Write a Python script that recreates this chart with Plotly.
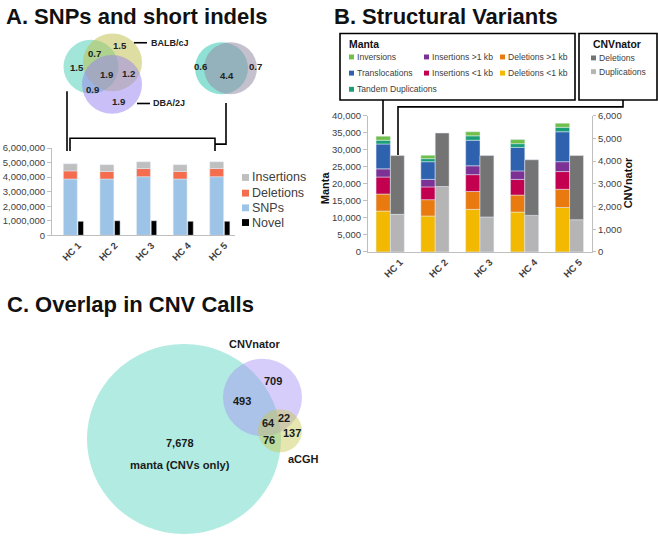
import plotly.graph_objects as go

W, H = 658, 544
FONT = "Liberation Sans, Arial, sans-serif"
TXT = "#404040"

# ---------------- data ----------------
categories = ["HC 1", "HC 2", "HC 3", "HC 4", "HC 5"]

# Panel A: SNPs and short indels (counts)
snps = [3870000, 3870000, 4030000, 3870000, 4030000]
deletions = [560000, 520000, 560000, 520000, 560000]
insertions = [490000, 470000, 470000, 470000, 470000]
novel = [960000, 1000000, 1000000, 960000, 960000]

# Panel A Venn labels (millions)
venn3_labels = ["1.5", "0.7", "1.5", "1.9", "1.2", "0.9", "1.9"]
venn2_labels = ["0.6", "4.4", "0.7"]

# Panel B: Manta structural variants (counts)
manta_series = ["Deletions <1 kb", "Deletions >1 kb", "Insertions <1 kb", "Insertions >1 kb",
                "Translocations", "Tandem Duplications", "Inversions"]
manta_del_lt1kb = [12000, 10550, 12500, 11700, 13050]
manta_del_gt1kb = [5000, 4800, 5250, 5000, 5350]
manta_ins_lt1kb = [5000, 3750, 4950, 4600, 5200]
manta_ins_gt1kb = [2400, 2200, 2600, 2500, 2900]
manta_transloc = [7300, 5200, 7500, 6900, 8800]
manta_tandem = [1100, 900, 1300, 1100, 1300]
manta_inversions = [1200, 1000, 1200, 1200, 1200]
manta_colors = ["#f3b800", "#e97a10", "#c2004f", "#7b3294", "#2f62ae", "#1a9e78", "#6fbf4a"]

# Panel B: CNVnator
cnv_duplications = [1655, 2880, 1540, 1610, 1420]
cnv_deletions = [2590, 2360, 2705, 2450, 2825]

# Panel C: CNV overlap counts
overlap_labels = ["7,678", "493", "709", "64", "22", "76", "137"]

# ---------------- helpers ----------------
def px(x):
    return x / W

def py(y):
    return 1 - y / H

shapes = []
annotations = []

def text(x, y, s, size, bold=False, color="#1a1a1a", xanchor="center", angle=0):
    annotations.append(dict(
        x=px(x), y=py(y), xref="paper", yref="paper", showarrow=False,
        text=f"<b>{s}</b>" if bold else s, textangle=angle,
        xanchor=xanchor, yanchor="middle",
        font=dict(family=FONT, size=size, color=color)))

def circle(cx, cy, r, fill):
    shapes.append(dict(type="circle", xref="paper", yref="paper",
                       x0=px(cx - r), x1=px(cx + r), y0=py(cy + r), y1=py(cy - r),
                       fillcolor=fill, line=dict(width=0), layer="above"))

def path(points, width=1.6, color="black"):
    d = "M " + " L ".join(f"{px(x)},{py(y)}" for x, y in points)
    shapes.append(dict(type="path", xref="paper", yref="paper", path=d,
                       line=dict(color=color, width=width), layer="above"))

def rect(x0, y0, x1, y1, fill=None, line_w=0, line_c="black"):
    shapes.append(dict(type="rect", xref="paper", yref="paper",
                       x0=px(x0), x1=px(x1), y0=py(y1), y1=py(y0),
                       fillcolor=fill if fill else "rgba(0,0,0,0)",
                       line=dict(width=line_w, color=line_c), layer="above"))

fig = go.Figure()
xs = list(range(len(categories)))

# ---------------- Panel A bars ----------------
base_del = snps
base_ins = [a + b for a, b in zip(snps, deletions)]
fig.add_trace(go.Bar(x=xs, y=snps, base=[0] * 5, name="SNPs", marker_color="#9dc3e6",
                     offset=-0.19, width=0.38, xaxis="x", yaxis="y"))
fig.add_trace(go.Bar(x=xs, y=deletions, base=base_del, name="Deletions", marker_color="#f46d4e",
                     offset=-0.19, width=0.38, xaxis="x", yaxis="y"))
fig.add_trace(go.Bar(x=xs, y=insertions, base=base_ins, name="Insertions", marker_color="#bfbfbf",
                     offset=-0.19, width=0.38, xaxis="x", yaxis="y"))
fig.add_trace(go.Bar(x=xs, y=novel, base=[0] * 5, name="Novel", marker_color="#000000",
                     offset=0.21, width=0.15, xaxis="x", yaxis="y"))

# ---------------- Panel B bars ----------------
manta_values = [manta_del_lt1kb, manta_del_gt1kb, manta_ins_lt1kb, manta_ins_gt1kb,
                manta_transloc, manta_tandem, manta_inversions]
running = [0] * 5
for name, vals, col in zip(manta_series, manta_values, manta_colors):
    fig.add_trace(go.Bar(x=xs, y=vals, base=list(running), name=name, marker_color=col,
                         offset=-0.32, width=0.32, xaxis="x2", yaxis="y2"))
    running = [a + b for a, b in zip(running, vals)]

fig.add_trace(go.Bar(x=xs, y=cnv_duplications, base=[0] * 5, name="Duplications",
                     marker_color="#b5b5b5", offset=0.0, width=0.31, xaxis="x2", yaxis="y3"))
fig.add_trace(go.Bar(x=xs, y=cnv_deletions, base=cnv_duplications, name="Deletions (CNVnator)",
                     marker_color="#747474", offset=0.0, width=0.31, xaxis="x2", yaxis="y3"))

# ---------------- axes ----------------
axis_common = dict(showline=True, linecolor="#bfbfbf", linewidth=1, showgrid=False, zeroline=False,
                   tickfont=dict(family=FONT, size=9.5, color=TXT))
tick_text = [f"<b>{c}</b>" for c in categories]
tick_pos = [i + 0.22 for i in xs]

fig.update_layout(
    xaxis=dict(domain=[px(52), px(235)], range=[-0.5, 4.5], anchor="y",
               tickvals=tick_pos, ticktext=tick_text, tickangle=-45, ticks="", **axis_common),
    yaxis=dict(domain=[py(234), py(145)], range=[0, 6000000], dtick=1000000, anchor="x",
               tickformat=",d", ticks="outside", ticklen=4, tickcolor="#bfbfbf", **axis_common),
    xaxis2=dict(domain=[px(368), px(592)], range=[-0.5, 4.5], anchor="y2",
                tickvals=tick_pos, ticktext=tick_text, tickangle=-45, ticks="", **axis_common),
    yaxis2=dict(domain=[py(251), py(112)], range=[0, 40000], dtick=5000, anchor="x2",
                tickformat=",d", ticks="outside", ticklen=4, tickcolor="#bfbfbf", **axis_common),
    yaxis3=dict(range=[0, 6000], dtick=1000, anchor="x2", overlaying="y2", side="right",
                tickformat=",d", ticks="outside", ticklen=3, tickcolor="#bfbfbf", **axis_common),
)

# ---------------- titles ----------------
text(4, 10.5, "A. SNPs and short indels", 22, bold=True, color="#111", xanchor="left")
text(332, 10.5, "B. Structural Variants", 22, bold=True, color="#111", xanchor="left")
text(5, 304.5, "C. Overlap in CNV Calls", 22, bold=True, color="#111", xanchor="left")

# ---------------- Panel A venns ----------------
circle(91, 62, 27.5, "rgba(70,205,180,0.5)")
circle(112.5, 57.5, 29.5, "rgba(190,190,70,0.5)")
circle(112, 80, 30, "rgba(150,130,240,0.5)")
venn3_pos = [(120, 40), (94, 48), (77, 63), (106, 70), (128, 69), (92, 85), (118, 97)]
for (x, y), s in zip(venn3_pos, venn3_labels):
    text(x, y, s, 9.6, bold=True, color="#222")
path([(134, 37.5), (147, 37.5)])
text(149, 37.5, "BALB/cJ", 9, bold=True, color="#222", xanchor="left")
path([(137, 99.5), (150, 99.5)])
text(151, 99.5, "DBA/2J", 9, bold=True, color="#222", xanchor="left")

circle(221.5, 63.5, 26.5, "rgba(70,205,185,0.6)")
circle(230.5, 63.5, 26.5, "rgba(150,140,165,0.55)")
for (x, y), s in zip([(201, 62), (227, 71), (255, 62)], venn2_labels):
    text(x, y, s, 9.6, bold=True, color="#222")

# connectors A
path([(67, 87), (67, 148)])
path([(70, 148), (70, 135), (215, 135), (215, 148)])
path([(226, 99), (226, 141), (215, 141)])

# legend A
legend_a = [("Insertions", "#bfbfbf", 175), ("Deletions", "#f46d4e", 191),
            ("SNPs", "#9dc3e6", 206), ("Novel", "#000000", 221)]
for name, col, y in legend_a:
    rect(242, y - 3.5, 249, y + 3.5, fill=col)
    text(250, y, name, 12.5, color=TXT, xanchor="left")

# ---------------- Panel B legend boxes ----------------
rect(340, 28, 575, 96, line_w=1.6)
rect(579, 28, 657, 96, line_w=1.6)
text(347, 39, "Manta", 10.4, bold=True, color="#111", xanchor="left")
text(591, 39, "CNVnator", 10.4, bold=True, color="#111", xanchor="left")
manta_legend = [("Inversions", 6, 349, 52), ("Insertions >1 kb", 3, 424, 52), ("Deletions >1 kb", 1, 500, 52),
                ("Translocations", 4, 349, 68.5), ("Insertions <1 kb", 2, 424, 68.5), ("Deletions <1 kb", 0, 500, 68.5),
                ("Tandem Duplications", 5, 349, 85)]
for name, ci, x, y in manta_legend:
    rect(x, y - 2.5, x + 5, y + 2.5, fill=manta_colors[ci])
    text(x + 6, y, name, 8.6, color=TXT, xanchor="left")
for name, col, y in [("Deletions", "#747474", 53), ("Duplications", "#b5b5b5", 67)]:
    rect(591, y - 2.5, 596, y + 2.5, fill=col)
    text(597, y, name, 8.6, color=TXT, xanchor="left")

# connectors B
path([(383, 96), (383, 131)])
path([(623, 96), (623, 103), (398, 103), (398, 152)])

# axis titles B
text(325, 186, "Manta", 11, bold=True, color="#111", angle=-90)
text(628, 181, "CNVnator", 11, bold=True, color="#111", angle=-90)

# ---------------- Panel C venn ----------------
circle(184, 442, 97, "rgba(100,215,195,0.5)")
circle(262.5, 399.5, 39.5, "rgba(165,145,245,0.45)")
circle(280, 433.5, 22, "rgba(200,200,80,0.45)")
overlap_pos = [(180, 446), (242, 403), (273, 383), (268, 426), (284, 420), (269, 443), (292, 436)]
for (x, y), s in zip(overlap_pos, overlap_labels):
    text(x, y, s, 11, bold=True, color="#1a1a1a")
text(180, 468, "manta (CNVs only)", 11.2, bold=True, color="#1a1a1a")
text(254, 345, "CNVnator", 11, bold=True, color="#1a1a1a")
text(303, 462, "aCGH", 11, bold=True, color="#1a1a1a")

fig.update_layout(
    width=W, height=H, autosize=False,
    margin=dict(l=0, r=0, t=0, b=0),
    paper_bgcolor="white", plot_bgcolor="white",
    barmode="overlay", showlegend=False,
    shapes=shapes, annotations=annotations,
    font=dict(family=FONT),
)

fig.write_html("out.html", post_script="document.body.style.margin='0';",
               config={"displayModeBar": False})
